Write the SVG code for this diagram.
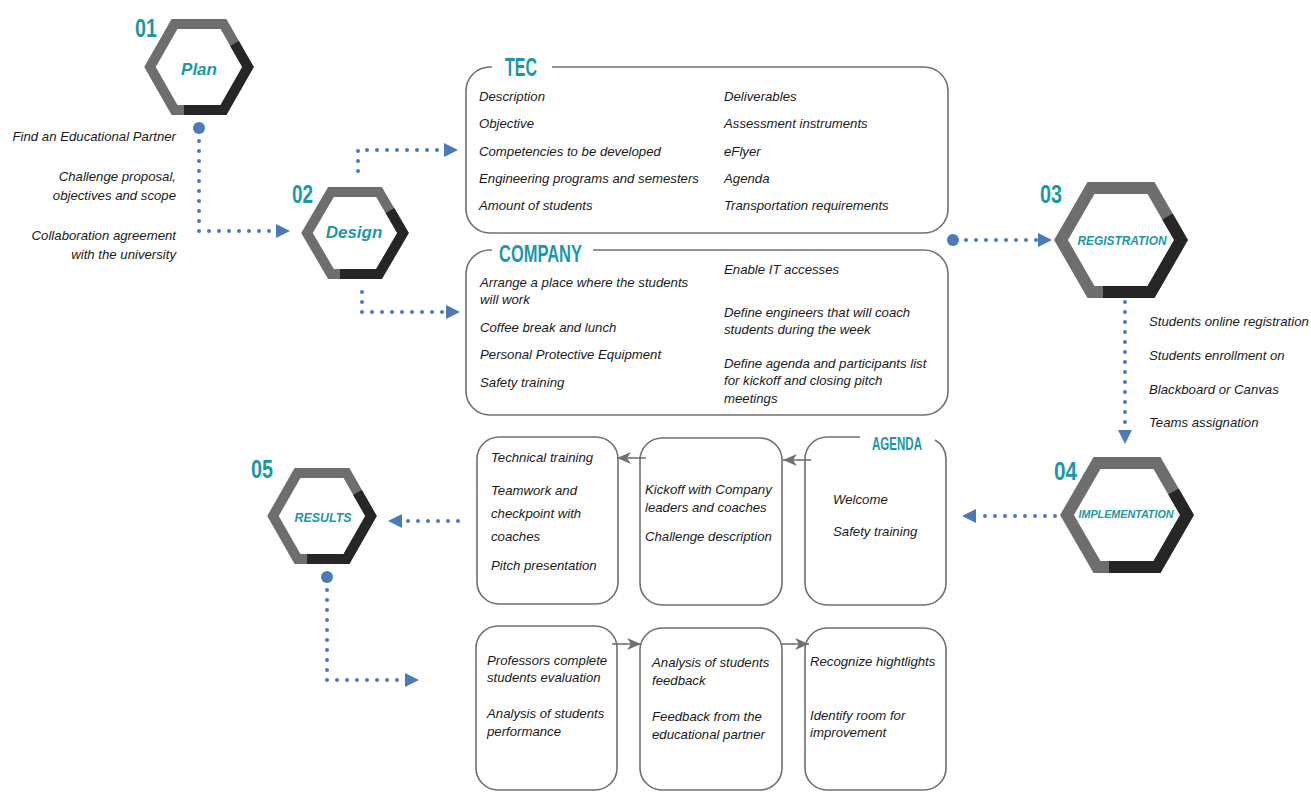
<svg xmlns="http://www.w3.org/2000/svg" width="1311" height="792" viewBox="0 0 1311 792">
  <style>
    .hex { fill: #ffffff; stroke: #6e6e6e; stroke-width: 10; stroke-linejoin: miter; }
    .hex-lg { stroke-width: 12; }
    .shade { fill: none; stroke: #262626; stroke-width: 10; stroke-linejoin: miter; }
    .shade-lg { stroke-width: 12; }
    .num { font-family: "Liberation Sans", Arial, sans-serif; font-weight: bold; font-size: 26px; fill: #1b98a6; }
    .hexlabel { font-family: "Liberation Sans", Arial, sans-serif; font-weight: bold; font-style: italic; fill: #1b98a6; text-anchor: middle; }
    .title { font-family: "Liberation Sans", Arial, sans-serif; font-weight: bold; fill: #1b98a6; }
    .txt { font-family: "Liberation Sans", Arial, sans-serif; font-style: italic; font-size: 13.2px; fill: #1a1a1a; }
    .side { font-family: "Liberation Sans", Arial, sans-serif; font-style: italic; font-size: 13.2px; fill: #1a1a1a; }
    .right { text-anchor: end; }
    .box { fill: none; stroke: #707070; stroke-width: 1.6; }
    .dots { fill: none; stroke: #4a7bb7; stroke-width: 4; stroke-linecap: round; stroke-dasharray: 0 10; }
    .knob { fill: #4a7bb7; }
    .flow { fill: none; stroke: #707070; stroke-width: 1.6; }
  </style>
  <defs>
    <marker id="tri" viewBox="0 0 14 14" refX="0" refY="7" markerWidth="14" markerHeight="14" markerUnits="userSpaceOnUse" orient="auto">
      <path d="M0,0 L14,7 L0,14 Z" fill="#4a7bb7"/>
    </marker>
    <marker id="stealth" viewBox="0 0 14 12" refX="14" refY="6" markerWidth="14" markerHeight="12" markerUnits="userSpaceOnUse" orient="auto">
      <path d="M0,0 L14,6 L0,12 L4,6 Z" fill="#707070"/>
    </marker>
  </defs>

  <rect width="1311" height="792" fill="#ffffff"/>

  <!-- connectors -->
  <g id="connectors">
    <!-- plan to design -->
    <circle class="knob" cx="199" cy="128" r="6"/>
    <path class="dots" d="M199,141 V231 H276" marker-end="url(#tri)"/>
    <!-- design to TEC / COMPANY -->
    <path class="dots" d="M358,171 V150 H444" marker-end="url(#tri)"/>
    <path class="dots" d="M362,292 V312 H446" marker-end="url(#tri)"/>
    <!-- to registration -->
    <circle class="knob" cx="953" cy="240" r="6"/>
    <path class="dots" d="M966,240 H1038" marker-end="url(#tri)"/>
    <!-- registration to implementation -->
    <path class="dots" d="M1125,302 V430" marker-end="url(#tri)"/>
    <!-- implementation to agenda -->
    <path class="dots" d="M1055,516 H976" marker-end="url(#tri)"/>
    <!-- agenda to results -->
    <path class="dots" d="M458,521 H402" marker-end="url(#tri)"/>
    <!-- results to closing boxes -->
    <circle class="knob" cx="327" cy="577" r="6"/>
    <path class="dots" d="M327,590 V680 H405" marker-end="url(#tri)"/>
    <!-- agenda sequence -->
    <path class="flow" d="M811,460 H783" marker-end="url(#stealth)"/>
    <path class="flow" d="M646,458 H617" marker-end="url(#stealth)"/>
    <!-- closing sequence -->
    <path class="flow" d="M612,644 H641" marker-end="url(#stealth)"/>
    <path class="flow" d="M781,644 H809" marker-end="url(#stealth)"/>
  </g>

  <!-- 01 Plan -->
  <g id="plan">
    <polygon class="hex" points="150,67 174.5,24 223.5,24 248,67 223.5,110 174.5,110"/>
    <polyline class="shade" points="234.5,43.4 248,67 223.5,110 184,110"/>
    <text class="num" x="135" y="37" textLength="22" lengthAdjust="spacingAndGlyphs">01</text>
    <text class="hexlabel" x="199" y="75" font-size="17">Plan</text>
    <text class="side right" x="176" y="141">Find an Educational Partner</text>
    <text class="side right" x="176" y="181">Challenge proposal,</text>
    <text class="side right" x="176" y="200">objectives and scope</text>
    <text class="side right" x="176" y="240">Collaboration agreement</text>
    <text class="side right" x="176" y="259">with the university</text>
  </g>

  <!-- 02 Design -->
  <g id="design">
    <polygon class="hex" points="307,233 331,192 379,192 403,233 379,274 331,274"/>
    <polyline class="shade" points="390,210.5 403,233 379,274 340,274"/>
    <text class="num" x="292" y="203" textLength="21" lengthAdjust="spacingAndGlyphs">02</text>
    <text class="hexlabel" x="354" y="238" font-size="17">Design</text>
  </g>

  <!-- TEC -->
  <g id="tec">
    <path class="box" d="M552,67 H924 A24,24 0 0 1 948,91 V209 A24,24 0 0 1 924,233 H490 A24,24 0 0 1 466,209 V91 A24,24 0 0 1 490,67 H492"/>
    <text class="title" x="505" y="76" font-size="25" textLength="32" lengthAdjust="spacingAndGlyphs">TEC</text>
    <text class="txt" x="479" y="101">Description</text>
    <text class="txt" x="479" y="128">Objective</text>
    <text class="txt" x="479" y="156">Competencies to be developed</text>
    <text class="txt" x="479" y="183">Engineering programs and semesters</text>
    <text class="txt" x="479" y="210">Amount of students</text>
    <text class="txt" x="724" y="101">Deliverables</text>
    <text class="txt" x="724" y="128">Assessment instruments</text>
    <text class="txt" x="724" y="156">eFlyer</text>
    <text class="txt" x="724" y="183">Agenda</text>
    <text class="txt" x="724" y="210">Transportation requirements</text>
  </g>

  <!-- COMPANY -->
  <g id="company">
    <path class="box" d="M593,250 H924 A24,24 0 0 1 948,274 V391 A24,24 0 0 1 924,415 H490 A24,24 0 0 1 466,391 V274 A24,24 0 0 1 490,250 H492"/>
    <text class="title" x="499" y="262" font-size="24" textLength="83" lengthAdjust="spacingAndGlyphs">COMPANY</text>
    <text class="txt" x="480" y="287">Arrange a place where the students</text>
    <text class="txt" x="480" y="304">will work</text>
    <text class="txt" x="480" y="332">Coffee break and lunch</text>
    <text class="txt" x="480" y="359">Personal Protective Equipment</text>
    <text class="txt" x="480" y="387">Safety training</text>
    <text class="txt" x="724" y="274">Enable IT accesses</text>
    <text class="txt" x="724" y="317">Define engineers that will coach</text>
    <text class="txt" x="724" y="334">students during the week</text>
    <text class="txt" x="724" y="368">Define agenda and participants list</text>
    <text class="txt" x="724" y="385">for kickoff and closing pitch</text>
    <text class="txt" x="724" y="403">meetings</text>
  </g>

  <!-- 03 Registration -->
  <g id="registration">
    <polygon class="hex hex-lg" points="1061,240 1091,188 1151,188 1181,240 1151,292 1091,292"/>
    <polyline class="shade shade-lg" points="1167.5,216.6 1181,240 1151,292 1103,292"/>
    <text class="num" x="1040" y="203" textLength="22" lengthAdjust="spacingAndGlyphs">03</text>
    <text class="hexlabel" x="1122" y="245" font-size="12" textLength="89" lengthAdjust="spacingAndGlyphs">REGISTRATION</text>
    <text class="side" x="1149" y="326">Students online registration</text>
    <text class="side" x="1149" y="360">Students enrollment on</text>
    <text class="side" x="1149" y="394">Blackboard or Canvas</text>
    <text class="side" x="1149" y="427">Teams assignation</text>
  </g>

  <!-- 04 Implementation -->
  <g id="implementation">
    <polygon class="hex hex-lg" points="1067,515 1097,463 1157,463 1187,515 1157,567 1097,567"/>
    <polyline class="shade shade-lg" points="1173.5,491.6 1187,515 1157,567 1109,567"/>
    <text class="num" x="1054" y="480" textLength="23" lengthAdjust="spacingAndGlyphs">04</text>
    <text class="hexlabel" x="1126" y="518" font-size="11.5" textLength="95" lengthAdjust="spacingAndGlyphs">IMPLEMENTATION</text>
  </g>

  <!-- agenda day boxes -->
  <g id="agenda-welcome">
    <path class="box" d="M935,440 A22,22 0 0 1 946,459 V583 A22,22 0 0 1 924,605 H827 A22,22 0 0 1 805,583 V459 A22,22 0 0 1 827,437 H860"/>
    <text class="title" x="872" y="450" font-size="19" textLength="50" lengthAdjust="spacingAndGlyphs">AGENDA</text>
    <text class="txt" x="833" y="504">Welcome</text>
    <text class="txt" x="833" y="536">Safety training</text>
  </g>
  <g id="agenda-kickoff">
    <rect class="box" x="640" y="438" width="142" height="167" rx="22"/>
    <text class="txt" x="645" y="494">Kickoff with Company</text>
    <text class="txt" x="645" y="512">leaders and coaches</text>
    <text class="txt" x="645" y="541">Challenge description</text>
  </g>
  <g id="agenda-training">
    <rect class="box" x="477" y="437" width="141" height="167" rx="22"/>
    <text class="txt" x="491" y="462">Technical training</text>
    <text class="txt" x="491" y="495">Teamwork and</text>
    <text class="txt" x="491" y="518">checkpoint with</text>
    <text class="txt" x="491" y="541">coaches</text>
    <text class="txt" x="491" y="570">Pitch presentation</text>
  </g>

  <!-- 05 Results -->
  <g id="results">
    <polygon class="hex" points="273,516 297.5,473 346.5,473 371,516 346.5,559 297.5,559"/>
    <polyline class="shade" points="357.5,492.4 371,516 346.5,559 307,559"/>
    <text class="num" x="251" y="478" textLength="22" lengthAdjust="spacingAndGlyphs">05</text>
    <text class="hexlabel" x="323" y="522" font-size="13" textLength="57" lengthAdjust="spacingAndGlyphs">RESULTS</text>
  </g>

  <!-- closing boxes -->
  <g id="evaluation">
    <rect class="box" x="476" y="626" width="141" height="164" rx="22"/>
    <text class="txt" x="487" y="665">Professors complete</text>
    <text class="txt" x="487" y="682">students evaluation</text>
    <text class="txt" x="487" y="718">Analysis of students</text>
    <text class="txt" x="487" y="736">performance</text>
  </g>
  <g id="feedback">
    <rect class="box" x="640" y="628" width="142" height="162" rx="22"/>
    <text class="txt" x="652" y="667">Analysis of students</text>
    <text class="txt" x="652" y="685">feedback</text>
    <text class="txt" x="652" y="721">Feedback from the</text>
    <text class="txt" x="652" y="739">educational partner</text>
  </g>
  <g id="improvement">
    <rect class="box" x="805" y="628" width="141" height="162" rx="22"/>
    <text class="txt" x="810" y="666">Recognize hightlights</text>
    <text class="txt" x="810" y="720">Identify room for</text>
    <text class="txt" x="810" y="737">improvement</text>
  </g>
</svg>
